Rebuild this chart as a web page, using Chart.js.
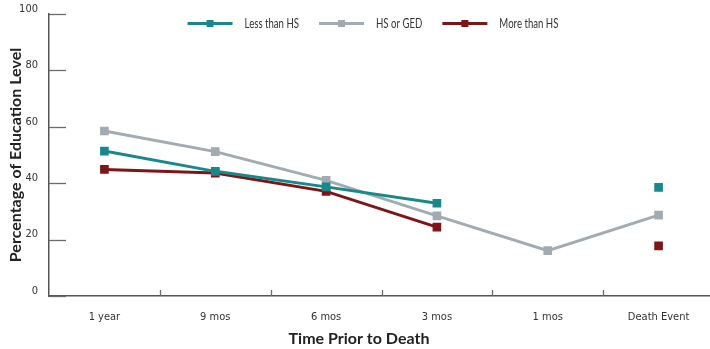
<!DOCTYPE html>
<html>
<head>
<meta charset="utf-8">
<script src="https://cdn.jsdelivr.net/npm/chart.js@4/dist/chart.umd.min.js"></script>
<style>
  html, body { margin: 0; padding: 0; background: #fff; overflow: hidden; }
  #wrap { width: 721px; height: 349px; }
</style>
</head>
<body>
<div id="wrap"><canvas id="chart"></canvas></div>
<script>
    "use strict";

    // Data
    var periods = ["1 year", "9 mos", "6 mos", "3 mos", "1 mos", "Death Event"];
    var lessThanHS = [51.4, 44.2, 38.7, 32.9, null, 38.5];
    var hsOrGED = [58.5, 51.2, 41.0, 28.4, 16.1, 28.7];
    var moreThanHS = [44.9, 43.6, 37.1, 24.4, null, 17.8];
    var yTicks = [0, 20, 40, 60, 80, 100];
    var xTitle = "Time Prior to Death";

    var tealColor = "#17898b";
    var grayColor = "#a1abb1";
    var redColor = "#7e1518";
    var narrowFamily = "'DejaVu Sans Condensed', 'DejaVu Sans', sans-serif";
    var narrowFont = { family: narrowFamily, size: 11, weight: "normal condensed" };

    function series(label, data, color) {
        return {
            label: label,
            data: data,
            borderColor: color,
            backgroundColor: color,
            borderWidth: 3,
            pointStyle: "rect",
            pointRadius: 4,
            pointHoverRadius: 4,
            spanGaps: false,
            tension: 0
        };
    }

    // Inner tick marks, x title and legend drawn across the top of the plot
    var decorations = {
        id: "decorations",
        afterDraw: function (chart) {
            var ctx = chart.ctx;
            var area = chart.chartArea;
            var xs = chart.scales.x;
            var ys = chart.scales.y;
            ctx.save();
            ctx.strokeStyle = "#6b6b6b";
            ctx.lineWidth = 1.3;
            ys.ticks.forEach(function (t, i) {
                var y = Math.round(ys.getPixelForTick(i)) + 0.5;
                ctx.beginPath();
                ctx.moveTo(area.left, y);
                ctx.lineTo(area.left + 17, y);
                ctx.stroke();
            });
            var step = xs.getPixelForTick(1) - xs.getPixelForTick(0);
            for (var i = 1; i <= periods.length; i++) {
                var x = Math.round(xs.getPixelForTick(i - 1) + step / 2) + 0.5;
                ctx.beginPath();
                ctx.moveTo(x, area.bottom);
                ctx.lineTo(x, area.bottom - 6);
                ctx.stroke();
            }

            // x axis title (centred on the page like the original, not on the plot)
            ctx.font = "bold 16px Lato, sans-serif";
            ctx.textAlign = "center";
            ctx.textBaseline = "middle";
            ctx.fillStyle = "#222";
            ctx.fillText(xTitle, 359, 339);

            // legend (text squeezed to look like the condensed face)
            var squeeze = 0.74;
            ctx.font = "13px Lato, sans-serif";
            ctx.textAlign = "left";
            var sets = chart.data.datasets;
            var lineW = 45, gap = 12, itemGap = 20;
            var total = 0;
            sets.forEach(function (ds, k) {
                total += lineW + gap + ctx.measureText(ds.label).width * squeeze;
                if (k < sets.length - 1) total += itemGap;
            });
            var lx = 373 - total / 2;
            var ly = 23.5;
            sets.forEach(function (ds) {
                ctx.strokeStyle = ds.borderColor;
                ctx.lineWidth = 3;
                ctx.beginPath();
                ctx.moveTo(lx, ly);
                ctx.lineTo(lx + lineW, ly);
                ctx.stroke();
                ctx.fillStyle = ds.borderColor;
                ctx.fillRect(lx + lineW / 2 - 3.5, ly - 3.5, 7, 7);
                var tx = lx + lineW + gap;
                ctx.save();
                ctx.translate(tx, ly);
                ctx.scale(squeeze, 1);
                ctx.fillStyle = "#333";
                ctx.fillText(ds.label, 0, 0);
                ctx.restore();
                lx = tx + ctx.measureText(ds.label).width * squeeze + itemGap;
            });
            ctx.restore();
        }
    };

    var ctx = document.getElementById("chart").getContext("2d");
    var myChart = new Chart(ctx, {
        type: "line",
        data: {
            labels: periods,
            datasets: [
                series("Less than HS", lessThanHS, tealColor),
                series("HS or GED", hsOrGED, grayColor),
                series("More than HS", moreThanHS, redColor)
            ]
        },
        options: {
            responsive: true,
            maintainAspectRatio: false,
            animation: false,
            layout: { padding: { top: 14, right: 0, left: 0, bottom: 0 } },
            plugins: {
                tooltip: { enabled: false },
                legend: { display: false }
            },
            scales: {
                x: {
                    offset: true,
                    afterFit: function (scale) {
                        scale.height = 53;
                        scale.paddingLeft = 0;
                        scale.paddingRight = 0;
                    },
                    grid: { display: true, drawOnChartArea: false, drawTicks: false, offset: true },
                    border: { display: true, color: "#555", width: 1.5 },
                    ticks: {
                        color: "#333",
                        padding: 15,
                        font: narrowFont
                    },
                    title: { display: false }
                },
                y: {
                    min: 0,
                    max: 100,
                    afterBuildTicks: function (scale) {
                        scale.ticks = yTicks.map(function (v) { return { value: v }; });
                    },
                    afterFit: function (scale) {
                        scale.width = 49;
                        scale.paddingTop = 0;
                        scale.paddingBottom = 0;
                    },
                    grid: { display: true, drawOnChartArea: false, drawTicks: false },
                    border: { display: true, color: "#555", width: 1.5 },
                    ticks: {
                        color: "#333",
                        padding: 11,
                        labelOffset: -5,
                        font: narrowFont
                    },
                    title: {
                        display: true,
                        text: "Percentage of Education Level",
                        color: "#222",
                        padding: { top: 6, bottom: 0 },
                        font: { family: "Lato, sans-serif", size: 16, weight: "bold" }
                    }
                }
            }
        },
        plugins: [decorations]
    });
</script>
</body>
</html>
